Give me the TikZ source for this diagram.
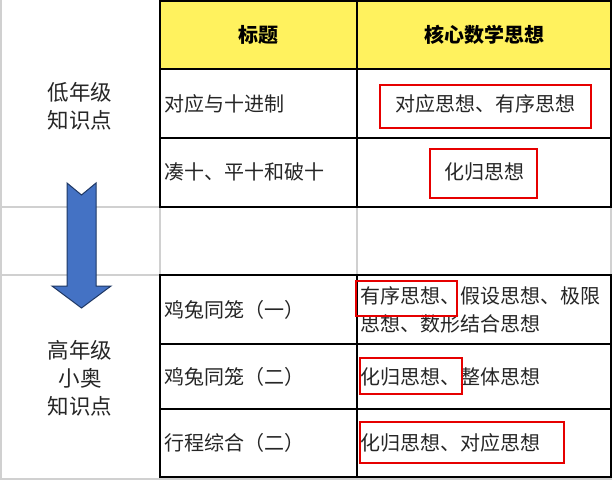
\documentclass[tikz,border=0pt]{standalone}
\usepackage{fontspec}
\newfontfamily\cjk{Noto Sans CJK SC}
\definecolor{hdr}{RGB}{255,242,94}
\definecolor{gridgrey}{RGB}{208,208,208}
\definecolor{arrowfill}{RGB}{68,114,196}
\definecolor{arrowedge}{RGB}{31,56,100}
\definecolor{boxred}{RGB}{230,0,0}
\tikzset{
  txt/.style={font=\cjk\fontsize{20}{28}\selectfont, inner sep=0pt, text=black!85},
  sidetxt/.style={font=\cjk\fontsize{21.5}{28}\selectfont, inner sep=0pt, text=black!85},
  hdrtxt/.style={font=\cjk\bfseries\fontsize{20}{28}\selectfont, inner sep=0pt},
  thick black/.style={line width=2pt, black},
  thin grey/.style={line width=1.5pt, gridgrey},
  redbox/.style={draw=boxred, line width=2pt},
}
\begin{document}
\begin{tikzpicture}[x=1pt,y=-1pt]
\useasboundingbox (0,0) rectangle (613,480);
\fill[white] (0,0) rectangle (613,480);
% header fill
\fill[hdr] (160,1) rectangle (611,69);
% grey grid of the sheet
\draw[thin grey] (1,0) -- (1,479) -- (612,479);
\draw[thin grey] (160,207) -- (612,207);
\draw[thin grey] (1,207) -- (160,207);
\draw[thin grey] (1,275) -- (160,275);
\draw[thin grey] (160,207) -- (160,275);
\draw[thin grey] (357,207) -- (357,275);
\draw[thin grey] (611,207) -- (611,275);
% upper table
\draw[thick black] (160,1) rectangle (611,207);
\draw[thick black] (160,69) -- (611,69);
\draw[thick black] (160,138) -- (611,138);
\draw[thick black] (357,1) -- (357,207);
% lower table
\draw[thick black] (160,275) rectangle (611,477);
\draw[thick black] (160,344) -- (611,344);
\draw[line width=1.3pt] (160,409) -- (611,409);
\draw[thick black] (357,275) -- (357,477);
% arrow
\draw[fill=arrowfill, draw=arrowedge, line width=1pt, line join=miter]
  (67,183) -- (81.5,195) -- (96,183) -- (96,286) -- (111,286) -- (81.5,308)
  -- (52,286) -- (67,286) -- cycle;
% left column labels
\node[sidetxt, align=center] (low) at (80,106) {低年级\\知识点};
\node[sidetxt, align=center] (high) at (80,378) {高年级\\小奥\\知识点};
% header
\node[hdrtxt] (h1) at (258,35) {标题};
\node[hdrtxt] (h2) at (484,35) {核心数学思想};
% rows
\node[txt, anchor=west] (r1) at (164,104) {对应与十进制};
\node[txt, anchor=west] (r2) at (164,172) {凑十、平十和破十};
\node[txt, anchor=west] (r3) at (164,310) {鸡兔同笼（一）};
\node[txt, anchor=west] (r4) at (164,377) {鸡兔同笼（二）};
\node[txt, anchor=west] (r5) at (164,443) {行程综合（二）};
% ideas
\node[txt] (i1) at (485,104) {对应思想、有序思想};
\node[txt] (i2) at (484,172) {化归思想};
\node[txt, anchor=west, align=left] (i3) at (360,310) {有序思想、假设思想、极限\\思想、数形结合思想};
\node[txt, anchor=west] (i4) at (360,377) {化归思想、整体思想};
\node[txt, anchor=west] (i5) at (360,443) {化归思想、对应思想};
% red boxes
\draw[redbox] (380,85) rectangle (591,128);
\draw[redbox] (430,149) rectangle (537,198);
\draw[redbox] (356,281) rectangle (457,316);
\draw[redbox] (360,358) rectangle (462,394);
\draw[redbox] (360,422) rectangle (564,463);
\end{tikzpicture}
\end{document}
